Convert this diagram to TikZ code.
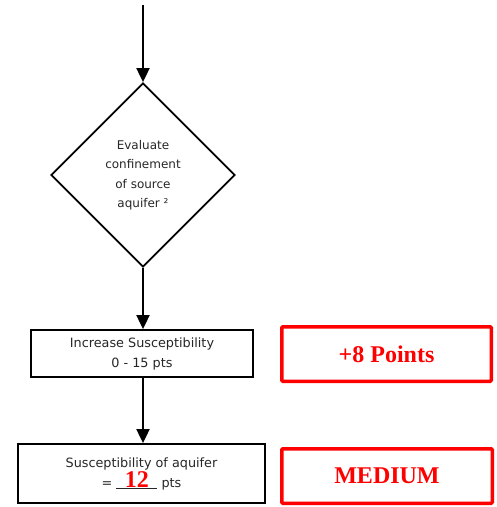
\documentclass[tikz,border=0pt]{standalone}
\usepackage{fontspec}
\setmainfont{DejaVu Sans}
\newfontfamily\pointsfont{Liberation Serif}
\usetikzlibrary{arrows.meta,shapes.geometric}

\tikzset{
    flowline/.style={line width=1.9pt, -{Triangle[length=14pt,width=13pt]}},
    stepbox/.style={
        rectangle,
        draw,
        line width=1.8pt,
        align=center,
        text=black!85,
        node font={\fontsize{12.8}{20}\selectfont}},
    pointbox/.style={
        rectangle,
        draw=red,
        line width=3.5pt,
        rounded corners=1pt,
        text=red,
        node font={\pointsfont\bfseries\fontsize{24}{26}\selectfont}}
}

\begin{document}
\begin{tikzpicture}[x=1pt, y=-1pt]
    \useasboundingbox (0,0) rectangle (497,507);

    \coordinate (start) at (143,5);

    \node[
        diamond,
        draw,
        line width=1.8pt,
        inner sep=0pt,
        minimum size=184pt,
        align=center,
        text=black!85,
        node font={\fontsize{12}{19.5}\selectfont}]
        (confine) at (143,175) {Evaluate\\confinement\\of source\\aquifer ²};

    \node[stepbox, minimum width=222pt, minimum height=47pt]
        (increase) at (142,353.5) {Increase Susceptibility\\0 - 15 pts};

    \node[stepbox, minimum width=247pt, minimum height=59pt]
        (result) at (141.5,473.5)
        {Susceptibility of aquifer\\= \underline{\makebox[41pt]{\smash{\textcolor{red}{\pointsfont\bfseries\fontsize{24}{26}\selectfont 12}}}} pts};

    \node[pointbox, minimum width=209.5pt, minimum height=54.5pt]
        (points) at (386.5,354) {+8 Points};

    \node[pointbox, minimum width=210.5pt, minimum height=54.5pt]
        (rating) at (387,476) {MEDIUM};

    % connectors
    \draw[flowline] (start) -- (confine.north);
    \draw[flowline] (confine.south) -- (confine.south |- increase.north);
    \draw[flowline] (confine.south |- increase.south) -- (confine.south |- result.north);
\end{tikzpicture}
\end{document}
